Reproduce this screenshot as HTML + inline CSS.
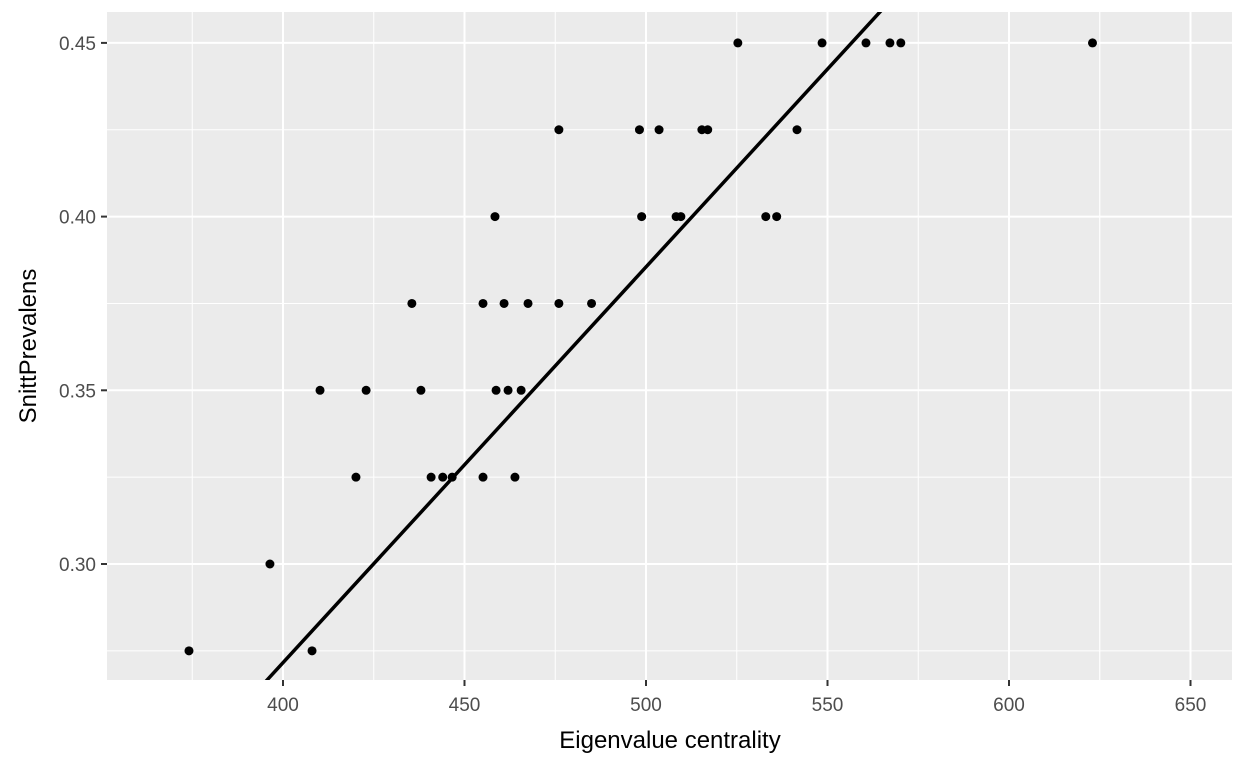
<!DOCTYPE html>
<html><head><meta charset="utf-8"><style>
html,body{margin:0;padding:0;background:#fff;font-family:"Liberation Sans",sans-serif;overflow:hidden;width:1248px;height:768px}
svg{display:block}
</style></head><body>
<svg id="chart" width="1248" height="768" xmlns="http://www.w3.org/2000/svg">
<defs><clipPath id="clip"><rect x="107" y="12" width="1125" height="668"/></clipPath></defs>
<rect x="107" y="12" width="1125" height="668" fill="#ebebeb"/>
<g id="grid"></g>
<g id="pts"></g>
<g id="axes"></g>
<text x="670" y="748" font-size="24" text-anchor="middle" fill="#000">Eigenvalue centrality</text>
<text transform="translate(36,346) rotate(-90)" font-size="24" text-anchor="middle" fill="#000">SnittPrevalens</text>
</svg>
<script>
const xs=[374.1,396.4,408,410.2,420.1,422.9,435.5,438,440.8,444,446.6,455.1,455.1,458.4,458.7,460.9,462,463.9,465.6,467.5,476,476,485,498.2,498.8,503.6,508.3,509.6,515.4,517,525.3,533,536,541.6,548.5,560.6,567.2,570.2,623];
const ys=[0.275,0.3,0.275,0.35,0.325,0.35,0.375,0.35,0.325,0.325,0.325,0.375,0.325,0.4,0.35,0.375,0.35,0.325,0.35,0.375,0.425,0.375,0.375,0.425,0.4,0.425,0.4,0.4,0.425,0.425,0.45,0.4,0.4,0.425,0.45,0.45,0.45,0.45,0.45];
const xTicks=[400,450,500,550,600,650];
const yTicks=[0.30,0.35,0.40,0.45];
const fitIntercept=-0.1840, fitSlope=0.001139;
const X=v=>283+(v-400)*3.63;
const Y=v=>564-(v-0.30)*3474;
const NS="http://www.w3.org/2000/svg";
function mk(t,a,p){const e=document.createElementNS(NS,t);for(const k in a)e.setAttribute(k,a[k]);p.appendChild(e);return e;}
const g=document.getElementById('grid'),ax=document.getElementById('axes'),pt=document.getElementById('pts');
xTicks.forEach(t=>{
 const m=mk('line',{x1:X(t-25),x2:X(t-25),y1:12,y2:680,stroke:'#fff','stroke-width':1},g);
 
 
 const l=mk('line',{x1:X(t),x2:X(t),y1:12,y2:680,stroke:'#fff','stroke-width':2},g);
 
 
 const k=mk('line',{x1:X(t),x2:X(t),y1:680,y2:686,stroke:'#333','stroke-width':2},ax);
 
 
 const tx=mk('text',{x:X(t),y:711,'font-size':19,'text-anchor':'middle',fill:'#4d4d4d'},ax);
 tx.textContent=t;
 
 
});
[X(625)].forEach(x=>{const m=mk('line',{x1:x,x2:x,y1:12,y2:680,stroke:'#fff','stroke-width':1},g);
 
 });
yTicks.forEach(t=>{
 const m=mk('line',{x1:107,x2:1232,y1:Y(t-0.025),y2:Y(t-0.025),stroke:'#fff','stroke-width':1},g);
 
 
 const l=mk('line',{x1:107,x2:1232,y1:Y(t),y2:Y(t),stroke:'#fff','stroke-width':2},g);
 
 
 const k=mk('line',{x1:101,x2:107,y1:Y(t),y2:Y(t),stroke:'#333','stroke-width':2},ax);
 
 
 const tx=mk('text',{x:96,y:Y(t)+7,'font-size':19,'text-anchor':'end',fill:'#4d4d4d'},ax);
 tx.textContent=t.toFixed(2);
 
 
});
xs.forEach((v,i)=>{
 const c=mk('circle',{cx:X(v),cy:Y(ys[i]),r:4.5,fill:'#000'},pt);
 
 
});
const x0=340,x1=680;
const fl=mk('line',{x1:X(x0),y1:Y(fitIntercept+fitSlope*x0),x2:X(x1),y2:Y(fitIntercept+fitSlope*x1),stroke:'#000','stroke-width':3.5,'clip-path':'url(#clip)'},pt);


</script>
</body></html>
